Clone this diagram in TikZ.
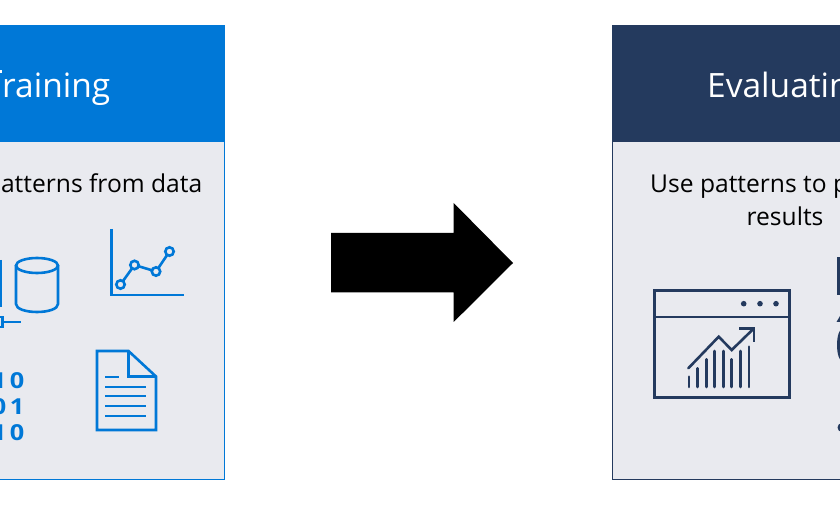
\documentclass[tikz,border=0pt]{standalone}
\usepackage{fontspec}
\setmainfont{Open Sans}
\newfontfamily\bitfont[FakeStretch=1.15]{Open Sans}
\usetikzlibrary{positioning}
\definecolor{pBlue}{RGB}{0,120,215}
\definecolor{pNavy}{RGB}{36,58,94}
\definecolor{pPanel}{RGB}{233,234,239}
\tikzset{
    head/.style={white, inner sep=0pt, font=\fontsize{33.5}{36}\selectfont},
    body/.style={black, inner sep=0pt, font=\fontsize{24.6}{28}\selectfont, align=center},
    icon/.style={line width=2.6pt, draw=pBlue},
    rule/.style={line width=2pt, draw=pBlue},
    evalicon/.style={line width=2.6pt, draw=pNavy},
    bits/.style={pBlue, inner sep=0pt, font=\fontsize{22}{22}\bitfont\bfseries}
}

\begin{document}
\begin{tikzpicture}[x=1pt,y=-1pt]
\useasboundingbox (0,0) rectangle (840,510);
\clip (0,0) rectangle (840,510);
% panels
\fill[pPanel] (0,142) rectangle (225,480);
\draw[pBlue] (-2,479.5) -- (224.5,479.5) -- (224.5,142);
\fill[pBlue] (0,25) rectangle (225,142);
\fill[pPanel] (612,142) rectangle (842,480);
\draw[pNavy] (842,479.5) -- (612.5,479.5) -- (612.5,142);
\fill[pNavy] (612,25) rectangle (842,142);
% titles
\fill[white] (0,70.5) rectangle (1.5,73);
\node[head, anchor=base east] (train) at (110.5,98) {raining};
\node[head, anchor=base west] (eval) at (707,98) {Evaluatin};
\node[body, anchor=base east] (learn) at (202.5,192.5) {atterns from data};
\node[body, anchor=base west] (use) at (650,192.5) {Use patterns to p};
\node[body, anchor=base] (res) at (785,225.5) {results};
% arrow
\fill[black] (331,233) -- (453.7,233) -- (453.7,203) -- (513,263) -- (453.7,322) -- (453.7,292.5) -- (331,292.5) -- cycle;
% line chart
\draw[icon,line width=2.4pt] (111.5,229) -- (111.5,295) -- (184,295);
\draw[icon] (120.5,284.5) -- (134.5,265) -- (156,271.5) -- (169.5,251.5);
\foreach \px/\py in {120.5/284.5,134.5/265,156/271.5,169.5/251.5}
    \draw[icon,fill=pPanel] (\px,\py) circle (4.2);
% cylinder
\draw[icon] (16,265.5) -- (16,304) .. controls (16,309) and (26,312) .. (37,312) .. controls (48,312) and (58,309) .. (58,304) -- (58,265.5);
\draw[icon] (37,265.5) ellipse (21 and 7.5);
% cut off icon left of the cylinder
\draw[icon] (1,260) -- (1,307);
\draw[icon] (-3,317) rectangle (2.5,327);
\draw[icon] (2.5,322) -- (21,322);
% bits
\node[bits, anchor=base east] (bitsa) at (24.5,388) {1\,0};
\node[bits, anchor=base east] (bitsb) at (24.5,414) {0\,1};
\node[bits, anchor=base east] (bitsc) at (24.5,440) {1\,0};
% document
\draw[icon,line join=miter] (97,351) -- (128.5,351) -- (156,376.5) -- (156,430) -- (97,430) -- cycle;
\draw[icon] (128.5,351) -- (128.5,376.5) -- (156,376.5);
\draw[rule] (105,376.5) -- (119,376.5);
\foreach \ly in {386.5,396,406,416}
    \draw[rule] (105,\ly) -- (146,\ly);
% window with chart
\draw[evalicon] (654.5,290.5) rectangle (789.5,397.5);
\draw[evalicon] (654.5,317) -- (789.5,317);
\foreach \dx in {743.7,760,776}
    \fill[pNavy] (\dx,303.7) circle (2.8);
\foreach \bx/\by in {689/376.7,697.7/368.3,706.3/359.3,714.7/351,723.3/351,731.7/359.3,740.3/351,749/346.7}
    \draw[evalicon,line cap=round] (\bx,387) -- (\bx,\by);
\draw[evalicon,line cap=round] (688.3,368.3) -- (718.7,336.7) -- (731.7,350) -- (754,328.3);
\draw[evalicon] (739.3,328.3) -- (754,328.3) -- (754,342.3);
% cut off icon at the right
\fill[pNavy] (837,257) rectangle (840,295);
\fill[pNavy] (840,316) -- (840,322) -- (836.5,322) -- cycle;
\fill[pNavy] (843,345) ellipse (6 and 17);
\fill[pNavy] (842,427.5) circle (4.5);
\end{tikzpicture}
\end{document}
